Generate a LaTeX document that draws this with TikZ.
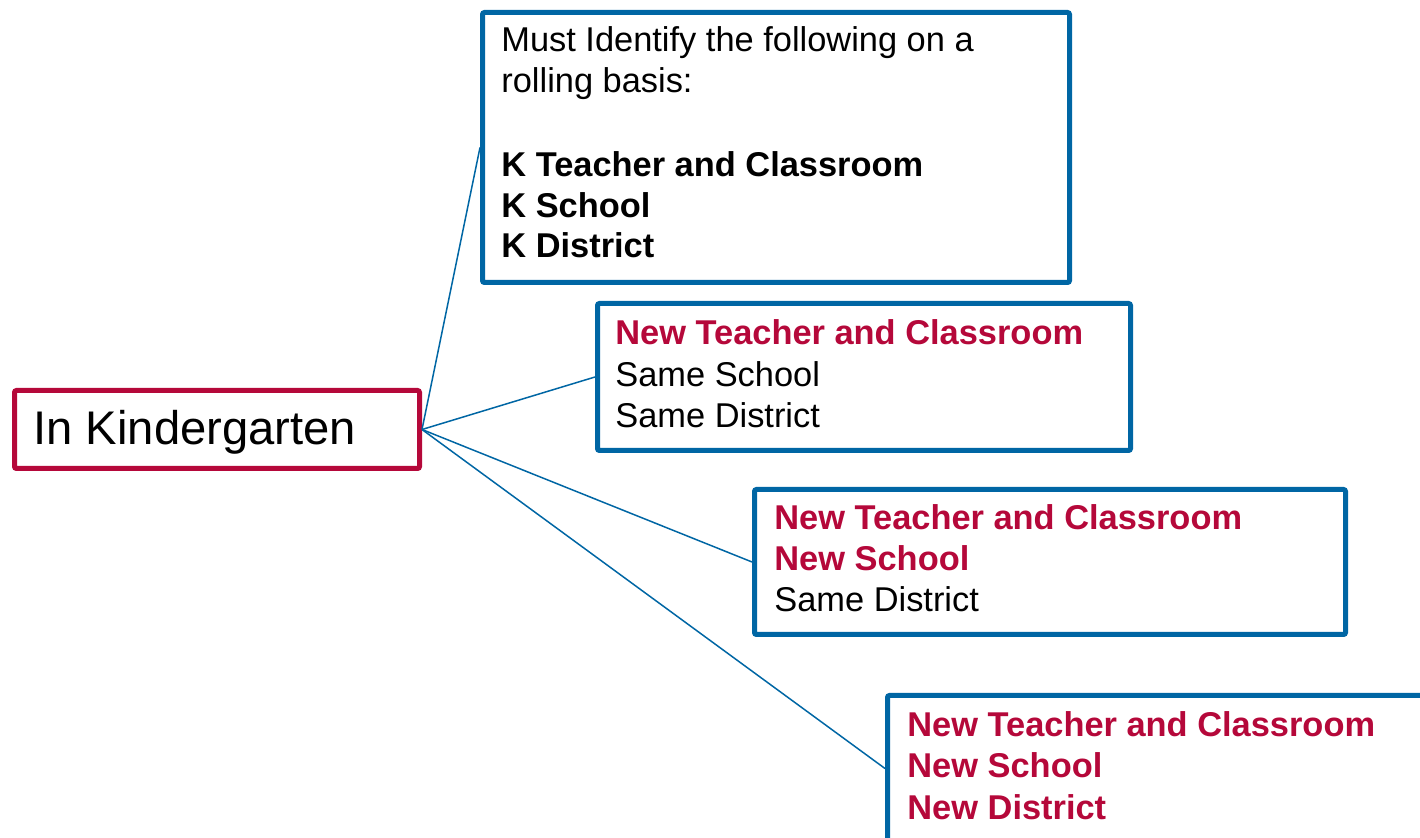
\documentclass[tikz,border=0pt]{standalone}
\usepackage{fontspec}
\setmainfont{Liberation Sans}
\definecolor{kblue}{RGB}{0,102,164}
\definecolor{kred}{RGB}{181,8,58}
\begin{document}
\begin{tikzpicture}[x=0.5pt,y=-0.5pt,
  bluebox/.style={draw=kblue,line width=2.5pt,rounded corners=1pt,fill=white,
    inner sep=0pt,anchor=north west},
  redbox/.style={draw=kred,line width=2.5pt,rounded corners=1pt,fill=white,
    inner sep=0pt,anchor=north west},
  conn/.style={draw=kblue,line width=0.75pt},
  txt/.style={anchor=base west,inner sep=0pt,font=\fontsize{17.2}{20}\selectfont},
  btxt/.style={txt,font=\fontsize{17.2}{20}\selectfont\bfseries},
  rtxt/.style={btxt,text=kred}]
\useasboundingbox (0,0) rectangle (1420,838);
\clip (0,0) rectangle (1420,838);
% root
\node[redbox,minimum width=405*0.5pt,minimum height=78*0.5pt] (root) at (12,388) {};
\node[anchor=base west,inner sep=0pt,font=\fontsize{23.6}{28}\selectfont] (roott) at (33,445) {In Kindergarten};
% boxes
\node[bluebox,minimum width=587*0.5pt,minimum height=270*0.5pt] (b1) at (480,10) {};
\node[bluebox,minimum width=533*0.5pt,minimum height=147*0.5pt] (b2) at (595,301) {};
\node[bluebox,minimum width=591*0.5pt,minimum height=145*0.5pt] (b3) at (752,487) {};
\node[bluebox,minimum width=560*0.5pt,minimum height=146*0.5pt] (b4) at (885,693) {};
% connectors
\draw[conn] (root.east) -- (b1.west);
\draw[conn] (root.east) -- (b2.west);
\draw[conn] (root.east) -- (b3.west);
\draw[conn] (root.east) -- (b4.west);
% box 1 text
\node[txt] (t1a) at (501,52) {Must Identify the following on a};
\node[txt] (t1b) at (501,93) {rolling basis:};
\node[btxt] (t1c) at (501,177) {K Teacher and Classroom};
\node[btxt] (t1d) at (501,218) {K School};
\node[btxt] (t1e) at (501,258) {K District};
% box 2 text
\node[rtxt] (t2a) at (615,345) {New Teacher and Classroom};
\node[txt] (t2b) at (615,387) {Same School};
\node[txt] (t2c) at (615,428) {Same District};
% box 3 text
\node[rtxt] (t3a) at (774,530) {New Teacher and Classroom};
\node[rtxt] (t3b) at (774,571) {New School};
\node[txt] (t3c) at (774,612) {Same District};
% box 4 text
\node[rtxt] (t4a) at (907,737) {New Teacher and Classroom};
\node[rtxt] (t4b) at (907,778) {New School};
\node[rtxt] (t4c) at (907,820) {New District};
\end{tikzpicture}
\end{document}
